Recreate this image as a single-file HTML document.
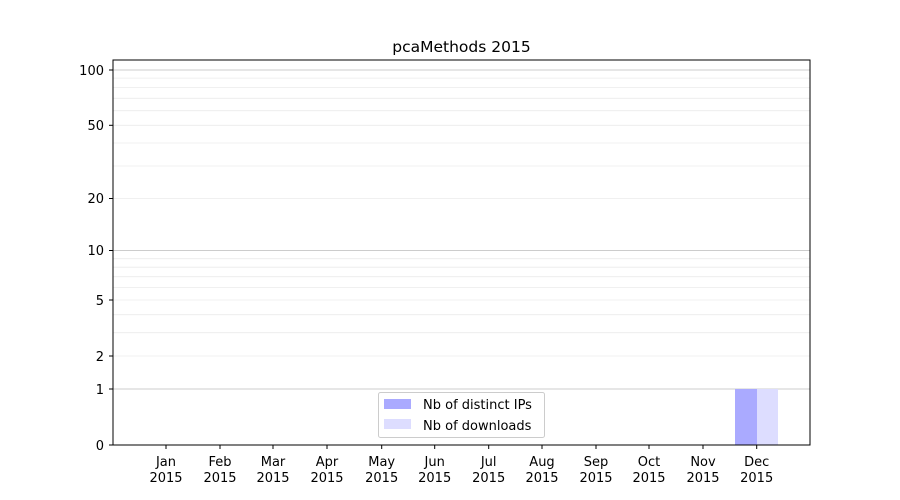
<!DOCTYPE html>
<html><head><meta charset="utf-8"><style>body{margin:0;background:#fff}svg{display:block}text{font-family:"DejaVu Sans","Liberation Sans",sans-serif;font-size:13px;fill:#000}</style></head>
<body>
<svg width="900" height="500" viewBox="0 0 900 500" xmlns="http://www.w3.org/2000/svg">
<rect width="900" height="500" fill="#fff"/>
<g stroke="#ebebeb" stroke-width="0.8">
<line x1="113" x2="810" y1="356" y2="356"/><line x1="113" x2="810" y1="332.7" y2="332.7"/>
<line x1="113" x2="810" y1="314.7" y2="314.7"/><line x1="113" x2="810" y1="300" y2="300"/>
<line x1="113" x2="810" y1="287.5" y2="287.5"/><line x1="113" x2="810" y1="276.7" y2="276.7"/>
<line x1="113" x2="810" y1="267.2" y2="267.2"/><line x1="113" x2="810" y1="258.7" y2="258.7"/>
<line x1="113" x2="810" y1="198.5" y2="198.5"/><line x1="113" x2="810" y1="166" y2="166"/>
<line x1="113" x2="810" y1="143" y2="143"/><line x1="113" x2="810" y1="125.3" y2="125.3"/>
<line x1="113" x2="810" y1="110.7" y2="110.7"/><line x1="113" x2="810" y1="98.3" y2="98.3"/>
<line x1="113" x2="810" y1="87.6" y2="87.6"/><line x1="113" x2="810" y1="78.1" y2="78.1"/>
</g>
<g stroke="#cccccc" stroke-width="1">
<line x1="113" x2="810" y1="389" y2="389"/><line x1="113" x2="810" y1="250.5" y2="250.5"/><line x1="113" x2="810" y1="70" y2="70"/>
</g>
<rect x="735" y="389" width="22" height="56" fill="#aaaaff"/>
<rect x="757" y="389" width="21" height="56" fill="#ddddff"/>
<rect x="113" y="60" width="697" height="385" fill="none" stroke="#000" stroke-width="1"/>
<g stroke="#000" stroke-width="1">
<line x1="109" x2="113" y1="445" y2="445"/><line x1="109" x2="113" y1="389" y2="389"/><line x1="109" x2="113" y1="356" y2="356"/>
<line x1="109" x2="113" y1="300" y2="300"/><line x1="109" x2="113" y1="250.5" y2="250.5"/><line x1="109" x2="113" y1="198.5" y2="198.5"/>
<line x1="109" x2="113" y1="125.3" y2="125.3"/><line x1="109" x2="113" y1="70" y2="70"/>
</g>
<g text-anchor="end">
<text x="104" y="450">0</text><text x="104" y="394">1</text><text x="104" y="361">2</text><text x="104" y="305">5</text>
<text x="104" y="255">10</text><text x="104" y="203">20</text><text x="104" y="130">50</text><text x="104" y="75">100</text>
</g>
<g text-anchor="middle">
<g stroke="#000"><line x1="166" x2="166" y1="445" y2="449"/><line x1="220" x2="220" y1="445" y2="449"/><line x1="273" x2="273" y1="445" y2="449"/><line x1="327" x2="327" y1="445" y2="449"/><line x1="381.7" x2="381.7" y1="445" y2="449"/><line x1="434.7" x2="434.7" y1="445" y2="449"/><line x1="488.7" x2="488.7" y1="445" y2="449"/><line x1="542" x2="542" y1="445" y2="449"/><line x1="596" x2="596" y1="445" y2="449"/><line x1="649" x2="649" y1="445" y2="449"/><line x1="703" x2="703" y1="445" y2="449"/><line x1="756.7" x2="756.7" y1="445" y2="449"/></g>
<text x="166" y="466">Jan</text><text x="166" y="482">2015</text>
<text x="220" y="466">Feb</text><text x="220" y="482">2015</text>
<text x="273" y="466">Mar</text><text x="273" y="482">2015</text>
<text x="327" y="466">Apr</text><text x="327" y="482">2015</text>
<text x="381.7" y="466">May</text><text x="381.7" y="482">2015</text>
<text x="434.7" y="466">Jun</text><text x="434.7" y="482">2015</text>
<text x="488.7" y="466">Jul</text><text x="488.7" y="482">2015</text>
<text x="542" y="466">Aug</text><text x="542" y="482">2015</text>
<text x="596" y="466">Sep</text><text x="596" y="482">2015</text>
<text x="649" y="466">Oct</text><text x="649" y="482">2015</text>
<text x="703" y="466">Nov</text><text x="703" y="482">2015</text>
<text x="756.7" y="466">Dec</text><text x="756.7" y="482">2015</text>
<text x="461.5" y="52" style="font-size:15.5px">pcaMethods 2015</text>
</g>
<rect x="378.5" y="392.5" width="166" height="45" rx="2" fill="#fff" fill-opacity="0.8" stroke="#cccccc"/>
<rect x="384" y="399" width="27" height="10" fill="#aaaaff"/>
<rect x="384" y="419" width="27" height="10" fill="#ddddff"/>
<text x="423" y="409">Nb of distinct IPs</text>
<text x="423" y="430">Nb of downloads</text>
</svg>
</body></html>
